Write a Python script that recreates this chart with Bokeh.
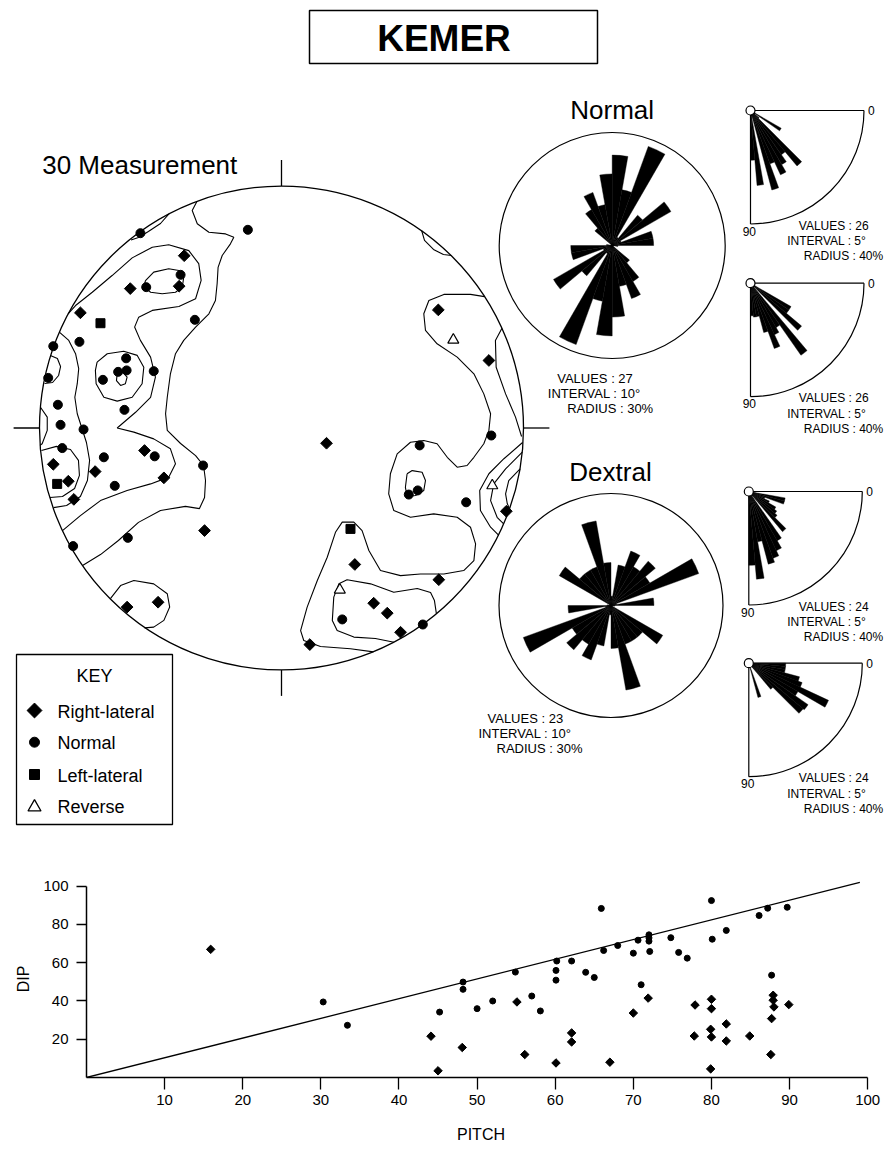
import math
from bokeh.plotting import figure
from bokeh.models import Range1d, FixedTicker
from bokeh.embed import file_html
from bokeh.resources import INLINE
from bokeh.core.properties import value

FONT = "Liberation Sans"

# ---------------- stereonet data (net units, primitive radius = 100, x east, y north)
rl_x = [-40.2, -62.5, -42.3, -83.1, -56.6, -94.3, -77.0, -88.1, -48.6, -85.8, -31.8, -63.8, -51.0,
        64.8, 85.7, 18.6, 92.9, 30.3, 65.0, 38.1, 43.7, 49.2, 11.7]
rl_y = [71.2, 57.6, 58.6, 47.6, -9.3, -15.0, -18.0, -22.0, -20.6, -29.5, -42.4, -74.0, -72.0,
        48.8, 27.9, -6.3, -34.4, -56.4, -62.7, -72.4, -76.5, -84.4, -89.5]
nm_x = [-58.3, -13.9, -41.7, -55.9, -35.8, -83.5, -94.3, -64.2, -67.5, -64.0, -73.8, -52.8, -96.4,
        -92.4, -64.9, -91.3, -81.8, -90.6, -73.4, -52.4, -32.4, -68.9, -63.5, -86.1,
        86.7, 57.1, 52.6, 56.3, 76.3, 25.1, 58.4]
nm_y = [80.5, 81.9, 63.3, 58.2, 44.7, 35.6, 33.8, 28.8, 23.2, 23.8, 19.9, 23.5, 20.7,
        9.6, 7.5, 1.3, -0.6, -8.3, -12.1, -11.7, -15.5, -23.9, -45.4, -48.8,
        -3.1, -7.2, -27.5, -25.8, -30.7, -79.1, -81.2]
ll_x = [-74.8, -92.7, 28.5]
ll_y = [43.3, -23.1, -41.7]
rv_x = [71.0, 87.1, 24.1]
rv_y = [36.4, -23.8, -66.9]

# density contour lines (net units)
contour_xs = [
    [-34.9, -36.9, -34.8, -30.0, -23.1, -19.7, -21.1, -24.5, -26.2, -26.6, -27.3, -30.0, -35.5, -40.4, -43.8,
     -45.9, -47.2, -47.9, -47.2, -41.7, -35.5, -32.2, -31.4, -31.8, -33.9, -39.7, -50.0, -59.1, -67.4, -74.8, -82.2],
    [-88.2, -85.1, -78.2, -70.0, -61.7, -53.4, -46.6, -38.3, -34.2, -33.2, -35.5, -42.4, -53.4, -59.0, -60.7,
     -58.3, -54.1, -52.1, -54.1, -60.3, -67.9, -61.0, -52.8, -45.9, -43.8, -46.6, -54.1, -63.8, -74.8, -83.1, -90.5],
    [-56.2, -52.8, -46.6, -42.4, -40.4, -41.0, -43.8, -49.3, -54.1, -56.9, -56.2],
    [-76.2, -72.0, -65.2, -59.6, -56.9, -57.6, -61.7, -67.9, -73.4, -76.6, -76.9, -76.2],
    [-67.9, -65.6, -63.8, -64.5, -66.5, -68.2, -67.9],
    [-91.8, -87.9, -85.1, -83.8, -84.4, -85.4, -84.4, -82.4, -80.6, -79.3, -80.2, -83.1, -88.8, -94.2],
    [-99.2, -93.0, -87.2, -83.9, -83.5, -85.5, -90.5, -95.7],
    [-99.6, -96.8, -96.8, -98.9, -99.8],
    [-46.5, -50.0, -55.0, -59.1, -62.2],
    [-95.5, -92.6, -91.3, -92.1, -94.6, -97.9],
    [-70.7, -66.5, -61.0, -52.8, -47.2, -46.2, -48.6, -52.8, -56.6],
    [57.9, 59.1, 62.8, 66.9, 70.2],
    [83.9, 78.1, 67.1, 60.9, 58.8, 59.5, 64.3, 72.6, 79.5, 83.6, 86.4, 85.7, 83.6, 79.5, 76.7, 72.6, 68.5, 64.3,
     58.8, 53.3, 47.8, 45.0, 44.3, 46.4, 53.3, 62.9, 72.6, 78.1, 80.2, 79.5, 75.3, 67.1, 57.4, 49.2, 40.9, 36.1,
     33.3, 29.9, 25.1, 22.3, 18.9, 14.8, 10.6, 7.9, 9.2, 16.1, 28.5, 38.0],
    [51.9, 54.0, 58.1, 59.5, 58.8, 55.4, 51.9, 51.2, 51.9],
    [64.0, 63.2, 61.6, 56.1, 46.4, 36.8, 27.1, 23.7, 21.6, 21.0, 23.0, 29.9, 38.8, 46.5],
    [99.6, 91.9, 85.7, 81.9, 82.2, 86.4, 89.8],
    [99.5, 92.6, 87.7, 86.4, 89.1, 91.8],
    [98.6, 93.9, 92.6, 93.3, 94.3],
    [91.1, 88.4, 88.7, 92.6, 96.7, 99.2],
]
contour_ys = [
    [93.7, 89.9, 84.4, 80.9, 80.2, 78.8, 76.1, 71.3, 66.4, 59.6, 52.7, 47.2, 41.7, 36.2, 30.7,
     22.4, 12.7, 5.9, -1.0, -6.4, -11.4, -15.5, -21.7, -28.7, -33.3, -32.4, -34.1, -39.0, -46.5, -52.3, -56.8],
    [47.2, 50.6, 56.1, 63.0, 70.3, 74.7, 75.7, 73.3, 67.9, 61.0, 53.4, 50.2, 48.6, 45.8, 41.7,
     36.2, 29.3, 21.0, 12.7, 6.5, 0.0, -1.7, -4.5, -8.6, -14.8, -20.3, -23.1, -25.8, -30.0, -36.2, -42.4],
    [60.9, 64.4, 65.8, 65.1, 62.3, 58.2, 56.1, 55.5, 56.1, 58.5, 60.9],
    [27.2, 30.7, 31.7, 30.0, 25.1, 18.3, 12.7, 11.1, 12.7, 18.3, 23.8, 27.2],
    [22.4, 23.1, 21.0, 18.3, 17.6, 19.6, 22.4],
    [39.6, 36.2, 30.7, 24.5, 18.3, 12.7, 5.9, -0.3, -6.0, -13.4, -21.7, -28.3, -32.0, -32.9],
    [-9.3, -7.6, -8.9, -13.4, -19.6, -25.0, -28.3, -28.7],
    [8.6, 4.5, -1.0, -6.5, -7.2],
    [88.5, 84.5, 81.2, 78.7, 77.7],
    [30.0, 28.7, 25.4, 21.7, 18.8, 18.4],
    [-70.5, -65.1, -63.0, -64.4, -68.5, -74.0, -79.5, -82.3, -82.6],
    [81.6, 77.5, 73.8, 71.7, 71.3],
    [54.3, 55.2, 55.2, 52.7, 47.2, 40.3, 34.8, 29.3, 22.4, 14.1, 5.9, -1.0, -6.5, -12.1, -15.5, -16.2, -12.1, -6.5,
     -5.2, -5.9, -10.7, -18.9, -27.2, -34.1, -36.9, -35.5, -36.9, -41.0, -47.9, -54.8, -58.9, -60.3, -60.3, -61.0,
     -58.9, -50.6, -42.4, -38.9, -38.9, -43.1, -53.4, -63.0, -74.0, -83.7, -87.8, -90.3, -91.2, -92.5],
    [-18.9, -17.6, -18.3, -21.7, -25.8, -27.9, -28.3, -24.5, -18.9],
    [-76.7, -71.3, -68.0, -66.3, -67.9, -64.4, -62.7, -64.4, -69.9, -79.5, -83.7, -86.4, -87.0, -88.5],
    [-6.0, -12.7, -18.9, -25.8, -34.1, -41.0, -44.4],
    [-10.0, -16.9, -23.1, -30.0, -36.9, -39.6],
    [-16.9, -21.7, -27.2, -31.3, -33.4],
    [41.2, 36.2, 25.1, 14.1, 4.5, -3.5],
]

# ---------------- rose diagrams (percent per bin)
normal_pct = [24, 15, 28, 2.5, 10.5, 18, 2.5, 11, 11, 1.5, 0, 0, 0, 6, 11, 15, 11, 19]
dextral_pct = [2.5, 11, 15.5, 12, 15.5, 12, 25, 1.5, 11.5, 1, 0, 0, 16, 11, 11, 11, 23, 11.5]
rose_step = 10
rose_radius = 30
q1_pct = [0, 0, 0, 0, 0, 0, 12.5, 2, 4, 25.5, 19, 22, 25, 20, 29, 2, 26.5, 17.5]
q2_pct = [0, 0, 0, 0, 0, 0, 16.5, 16.5, 23.5, 0, 31, 18, 20, 24.5, 18, 12, 12, 11.5]
q3_pct = [0, 0, 13, 13, 6, 8, 11, 12, 13, 18.5, 2, 20, 23, 25, 26.5, 18, 31, 26]
q4_pct = [13, 13, 13, 18.5, 20, 31, 20, 25.5, 25, 12, 0, 0, 0, 0, 12.5, 0, 0, 0]
quad_step = 5
quad_radius = 40
normal_info = ["VALUES : 27", "INTERVAL : 10°", "RADIUS : 30%"]
dextral_info = ["VALUES : 23", "INTERVAL : 10°", "RADIUS : 30%"]
quad_info = [["VALUES : 26", "INTERVAL : 5°", "RADIUS : 40%"],
             ["VALUES : 26", "INTERVAL : 5°", "RADIUS : 40%"],
             ["VALUES : 24", "INTERVAL : 5°", "RADIUS : 40%"],
             ["VALUES : 24", "INTERVAL : 5°", "RADIUS : 40%"]]
key_labels = ["Right-lateral", "Normal", "Left-lateral", "Reverse"]

# ---------------- pitch / dip scatter
pitch_rl = [15.9, 44.1, 45.0, 48.1, 55.1, 56.1, 60.1, 62.1, 62.1, 67.0, 70.0, 71.9, 77.9, 77.8, 80.0, 80.0, 79.9,
            80.0, 79.9, 81.9, 81.9, 84.9, 87.9, 87.9, 88.0, 87.7, 87.6, 89.9]
dip_rl = [67.0, 21.6, 3.5, 15.7, 39.5, 12.0, 7.6, 23.3, 18.6, 8.0, 33.7, 41.5, 37.9, 21.7, 40.9, 36.0, 25.2,
          21.2, 4.5, 28.0, 19.1, 21.7, 43.0, 40.4, 36.9, 30.8, 12.0, 38.1]
pitch_nm = [30.3, 33.4, 45.2, 48.2, 48.2, 50.0, 52.0, 54.9, 57.0, 58.1, 60.2, 60.1, 60.1, 62.1, 63.9, 65.0, 65.9,
            66.2, 68.0, 70.0, 70.6, 71.0, 72.0, 72.0, 72.0, 72.1, 74.8, 75.8, 76.9, 80.0, 80.1, 81.9, 86.1, 87.2,
            87.7, 89.7]
dip_nm = [39.5, 27.3, 34.2, 49.9, 46.1, 36.0, 40.0, 55.1, 42.6, 34.8, 60.9, 56.0, 50.9, 60.9, 55.0, 52.3, 88.4,
          66.4, 69.0, 65.0, 71.8, 48.5, 74.6, 73.0, 71.3, 65.9, 73.1, 65.4, 62.4, 92.5, 72.3, 76.9, 84.7, 88.5,
          53.5, 89.0]
line_pitch = [0, 99]
line_dip = [0, 102]
x_ticks = [10, 20, 30, 40, 50, 60, 70, 80, 90, 100]
y_ticks = [20, 40, 60, 80, 100]

# ================= top figure (its default ranges = window pixels) =================
W = 891
H_TOP = 850
p = figure(width=W, height=H_TOP, x_range=Range1d(0, W), y_range=Range1d(H_TOP, 0),
           x_axis_type=None, y_axis_type=None, output_backend="svg", toolbar_location=None, min_border=0)
p.grid.visible = False
p.outline_line_color = None

xr, yr = {}, {}
def frame(name, cx, cy, k):
    xr[name + "_x"] = Range1d((0 - cx) / k, (W - cx) / k)
    yr[name + "_y"] = Range1d((cy - H_TOP) / k, (cy - 0) / k)
    return dict(x_range_name=name + "_x", y_range_name=name + "_y")

NET = frame("net", 281, 427.5, 2.42)
NR = frame("nr", 611.7, 245, 113 / rose_radius)
DR = frame("dr", 610.5, 605, 112 / rose_radius)
quad_origins = [(750, 110), (750, 282.7), (748.3, 491), (748.3, 662.7)]
QF = [frame("q%d" % i, ox, oy, 113.5 / quad_radius) for i, (ox, oy) in enumerate(quad_origins)]
p.extra_x_ranges = xr
p.extra_y_ranges = yr

def txt(x, y, t, size, align="left", style="normal"):
    p.text(x=x, y=y, text=t, text_font=value(FONT), text_font_size=size, text_align=align,
           text_baseline="middle", text_font_style=style, text_color="black")

# title
p.quad(left=[309], right=[597], top=[10], bottom=[63], fill_color=None, line_color="black", line_width=1.5)
txt([443.5], [38], ["KEMER"], "37px", align="center", style="bold")
txt([41.7], [164.5], ["30 Measurement"], "26px")

# stereonet
p.circle(x=[0], y=[0], radius=100, fill_color=None, line_color="black", line_width=1.3, **NET)
p.segment(x0=[0, 0, -100, 100], y0=[100, -100, 0, 0], x1=[0, 0, -110.7, 110.7], y1=[110.7, -110.7, 0, 0],
          line_color="black", line_width=1.3, **NET)
p.multi_line(xs=contour_xs, ys=contour_ys, line_color="black", line_width=1.1, **NET)
p.scatter(rl_x, rl_y, marker="square", angle=math.pi / 4, size=8.3, fill_color="black", line_color="black", **NET)
p.scatter(nm_x, nm_y, marker="circle", size=9, fill_color="black", line_color="black", **NET)
p.scatter(ll_x, ll_y, marker="square", size=9, fill_color="black", line_color="black", **NET)
p.scatter(rv_x, rv_y, marker="triangle", size=11, fill_color="white", line_color="black", line_width=1.2, **NET)

# key
p.quad(left=[16], right=[172], top=[654], bottom=[824], fill_color=None, line_color="black", line_width=1.3)
txt([94], [675], ["KEY"], "18px", align="center")
key_rows = [710, 741.7, 774, 805.7]
p.scatter([34], [key_rows[0]], marker="square", angle=math.pi / 4, size=10.5, fill_color="black", line_color="black")
p.scatter([34], [key_rows[1]], marker="circle", size=10, fill_color="black", line_color="black")
p.scatter([34], [key_rows[2]], marker="square", size=10, fill_color="black", line_color="black")
p.scatter([34], [key_rows[3] + 1], marker="triangle", size=13, fill_color="white", line_color="black", line_width=1.3)
txt([57] * 4, [r + 1 for r in key_rows], key_labels, "18px")

# azimuthal roses (axial: each bin drawn twice)
def rose(fr, pct):
    r, s, e = [], [], []
    for i, L in enumerate(pct):
        if L <= 0:
            continue
        a = i * rose_step
        for off in (0, 180):
            r.append(L)
            s.append(math.radians(90 - (a + off + rose_step)))
            e.append(math.radians(90 - (a + off)))
    n = len(r)
    p.wedge(x=[0] * n, y=[0] * n, radius=r, start_angle=s, end_angle=e,
            fill_color="black", line_color="black", line_width=0.4, **fr)
    p.circle(x=[0], y=[0], radius=rose_radius, fill_color=None, line_color="black", line_width=1.2, **fr)

rose(NR, normal_pct)
rose(DR, dextral_pct)
txt([611.7], [109], ["Normal"], "26px", align="center")
txt([610.0], [471.5], ["Dextral"], "26px", align="center")
txt([556.7, 547.3, 566.7], [378, 393, 408], normal_info, "13px")
txt([487, 478, 496], [718, 733, 748], dextral_info, "13px")

# quadrant roses (angle from the horizontal, clockwise down)
for fr, pct, (ox, oy), info in zip(QF, [q1_pct, q2_pct, q3_pct, q4_pct], quad_origins, quad_info):
    r, s, e = [], [], []
    for i, L in enumerate(pct):
        if L <= 0:
            continue
        t = i * quad_step
        r.append(L)
        s.append(math.radians(-(t + quad_step)))
        e.append(math.radians(-t))
    n = len(r)
    p.wedge(x=[0] * n, y=[0] * n, radius=r, start_angle=s, end_angle=e,
            fill_color="black", line_color="black", line_width=0.4, **fr)
    p.segment(x0=[0, 0], y0=[0, 0], x1=[quad_radius, 0], y1=[0, -quad_radius],
              line_color="black", line_width=1.2, **fr)
    p.arc(x=[0], y=[0], radius=quad_radius, start_angle=-math.pi / 2, end_angle=0,
          line_color="black", line_width=1.2, **fr)
    p.scatter([0], [0], marker="circle", size=9, fill_color="white", line_color="black", line_width=1.2, **fr)
    p.text(x=[quad_radius * 1.065, -0.4], y=[0, -quad_radius * 1.063], text=["0", "90"],
           text_font=value(FONT), text_font_size="12px", text_align="center", text_baseline="middle", **fr)
    txt([798.3, 786.7, 803.3], [oy + 115, oy + 130.5, oy + 145.5], info, "12px")

# ================= scatter figure =================
s = figure(width=W, height=299, x_range=Range1d(0, 101), y_range=Range1d(0, 103),
           output_backend="svg", toolbar_location=None,
           min_border_left=86, min_border_right=16, min_border_top=30, min_border_bottom=72)
s.grid.visible = False
s.outline_line_color = None
s.xaxis.ticker = FixedTicker(ticks=x_ticks)
s.yaxis.ticker = FixedTicker(ticks=y_ticks)
s.xaxis.bounds = (0, 100)
s.yaxis.bounds = (0, 100)
for ax in (s.xaxis[0], s.yaxis[0]):
    ax.axis_line_width = 1.5
    ax.major_tick_line_width = 1.3
    ax.minor_tick_line_color = None
    ax.major_tick_in = 0
    ax.major_label_text_font = FONT
    ax.major_label_text_font_size = "15px"
    ax.major_label_text_color = "black"
    ax.axis_label_text_font = FONT
    ax.axis_label_text_font_size = "16px"
    ax.axis_label_text_font_style = "normal"
    ax.axis_label_text_color = "black"
s.xaxis.major_tick_out = 12
s.xaxis.major_label_standoff = 5
s.xaxis.axis_label_standoff = 18
s.yaxis.major_tick_out = 10
s.yaxis.major_label_standoff = 8
s.yaxis.axis_label_standoff = 8
s.xaxis.axis_label = "PITCH"
s.yaxis.axis_label = "DIP"

s.line(line_pitch, line_dip, line_color="black", line_width=1.3)
s.scatter(pitch_rl, dip_rl, marker="square", angle=math.pi / 4, size=6, fill_color="black", line_color="black")
s.scatter(pitch_nm, dip_nm, marker="circle", size=6, fill_color="black", line_color="black")

open("out.html", "w").write(file_html([p, s], INLINE))
